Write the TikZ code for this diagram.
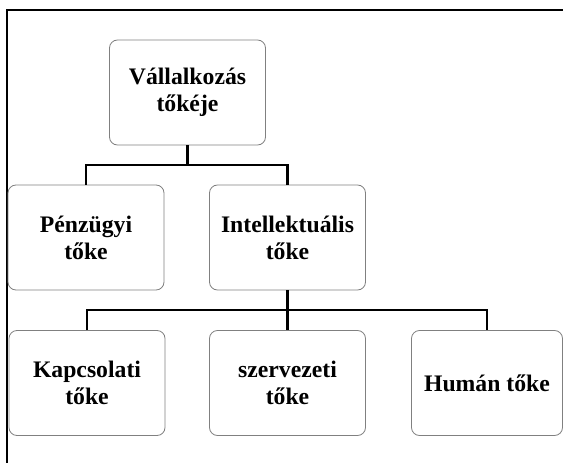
\documentclass[tikz,border=0pt]{standalone}
\usepackage{fontspec}
\setmainfont{Liberation Serif}
\begin{document}
\begin{tikzpicture}[x=1pt, y=-1pt, align=center, font=\fontsize{23.7}{27}\selectfont\bfseries]
    \tikzstyle{every node}=[inner sep=0pt];
    \tikzstyle{box}=[draw=gray, line width=0.8pt, rounded corners=8pt, minimum width=156pt, minimum height=105pt];
    \tikzstyle{link}=[draw=black, line width=2.6pt];

    \useasboundingbox (0,0) rectangle (563,463);
    \clip (0,0) rectangle (563,463);

    % frame
    \draw[link] (7,463) -- (7,10) -- (563,10);

    \node at (187.5, 92.5) (vt) [box] {Vállalkozás\\tőkéje};
    \node at ( 86.0, 237.5) (pt) [box] {Pénzügyi\\tőke};
    \node at (287.5, 237.5) (it) [box] {Intellektuális\\tőke};
    \node at ( 87.0, 383.0) (kt) [box] {Kapcsolati\\tőke};
    \node at (287.5, 383.0) (szt) [box] {szervezeti\\tőke};
    \node at (487.0, 383.0) (ht) [box, minimum width=151pt] {Humán tőke};

    \coordinate (j1) at (187.5, 165);
    \coordinate (j2) at (287.5, 310);

    \draw[link] (vt.south) -- (j1);
    \draw[link] (pt.north) |- (j1) -| (it.north);
    \draw[link] (it.south) -- (j2);
    \draw[link] (kt.north) |- (j2) -| (ht.north);
    \draw[link] (j2) -- (szt.north);
\end{tikzpicture}
\end{document}
